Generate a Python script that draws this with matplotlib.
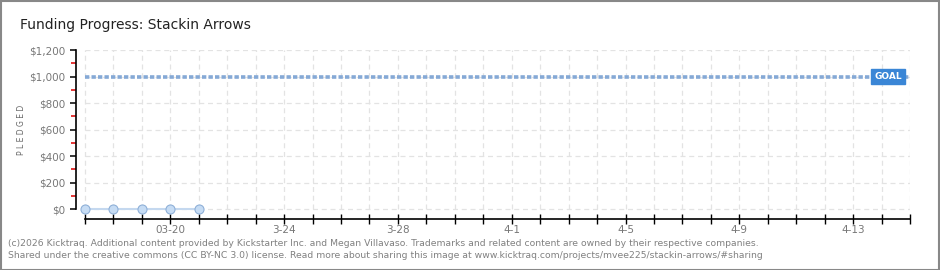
import matplotlib.pyplot as plt
from matplotlib.patches import Rectangle

# chart data
all_days = ['3-17', '3-18', '3-19', '03-20', '3-21', '3-22', '3-23', '3-24', '3-25', '3-26',
            '3-27', '3-28', '3-29', '3-30', '3-31', '4-1', '4-2', '4-3', '4-4', '4-5',
            '4-6', '4-7', '4-8', '4-9', '4-10', '4-11', '4-12', '4-13', '4-14', '4-15']
labelled_days = ['03-20', '3-24', '3-28', '4-1', '4-5', '4-9', '4-13']
pledged_days = ['3-17', '3-18', '3-19', '03-20', '3-21']
pledged = [0, 0, 0, 0, 0]
goal = 1000
y_ticks = [0, 200, 400, 600, 800, 1000, 1200]
y_labels = ['$0', '$200', '$400', '$600', '$800', '$1,000', '$1,200']

W, H = 940, 270
fig = plt.figure(figsize=(W / 100, H / 100), dpi=100)
fig.patch.set_facecolor('white')

# outer border
fig.add_artist(Rectangle((0.5 / W, 0.5 / H), 1 - 1.5 / W, 1 - 1.5 / H, transform=fig.transFigure,
                         fill=False, edgecolor='#888888', linewidth=1.5))

ax = fig.add_axes([76 / W, (H - 219) / H, (910 - 76) / W, (219 - 50) / H])
n = len(all_days)
last = n - 1
ax.set_xlim(-9 / 28.45, last)
ax.set_ylim(-75, 1200)

# dashed grid
grid_kw = dict(color='#e3e3e3', linestyle=(0, (4, 3)), linewidth=0.9, zorder=0)
ax.hlines(y_ticks, 0, last, **grid_kw)
ax.vlines(range(n), 0, 1200, **grid_kw)

# goal line
ax.plot([0, last], [goal, goal], color='#85a9d6', linestyle=(0, (1.2, 0.6)), linewidth=2.6, zorder=2)
ax.text(27.75, goal, 'GOAL', color='white', fontsize=6.5, fontweight='bold', va='center', ha='left',
        bbox=dict(boxstyle='square,pad=0.35', facecolor='#3a86d6', edgecolor='#3a86d6'), zorder=3)

# pledged line
px = [all_days.index(d) for d in pledged_days]
ax.plot(px, pledged, color='#c4d8ef', linewidth=1.5, zorder=3)
ax.plot(px, pledged, 'o', markersize=6.5, markerfacecolor='#c6dcf4', markeredgecolor='#8fb0d8',
        markeredgewidth=0.8, zorder=4, clip_on=False)

# spines
for s in ['top', 'right']:
    ax.spines[s].set_visible(False)
ax.spines['left'].set_bounds(0, 1200)
ax.spines['bottom'].set_bounds(0, last)
ax.spines['left'].set_linewidth(1.2)
ax.spines['bottom'].set_linewidth(1.2)

ax.set_yticks(y_ticks)
ax.set_yticklabels(y_labels, color='#777777', fontsize=7.5)
ax.set_yticks([100, 300, 500, 700, 900, 1100], minor=True)
ax.tick_params(axis='y', which='major', length=4.5, width=1.1, direction='out', pad=3)
ax.tick_params(axis='y', which='minor', length=3.5, width=1.1, color='#dd0000', direction='out')

ax.set_xticks(range(n))
ax.set_xticklabels([d if d in labelled_days else '' for d in all_days], color='#777777', fontsize=7.5)
ax.tick_params(axis='x', which='major', length=7, width=1, direction='inout', pad=1)

fig.text(22 / W, 1 - 130 / H, 'P L E D G E D', color='#666666', fontsize=5.5, rotation=90,
         va='center', ha='center')

fig.text(20 / W, 1 - 25 / H, 'Funding Progress: Stackin Arrows', fontsize=10, color='#222222',
         va='center', ha='left')
fig.text(8 / W, 1 - 243 / H,
         '(c)2026 Kicktraq. Additional content provided by Kickstarter Inc. and Megan Villavaso. '
         'Trademarks and related content are owned by their respective companies.',
         fontsize=6.65, color='#808080', va='center', ha='left')
fig.text(8 / W, 1 - 256 / H,
         'Shared under the creative commons (CC BY-NC 3.0) license. Read more about sharing this image at '
         'www.kicktraq.com/projects/mvee225/stackin-arrows/#sharing',
         fontsize=6.65, color='#808080', va='center', ha='left')

fig.savefig('out.png', dpi=100)
